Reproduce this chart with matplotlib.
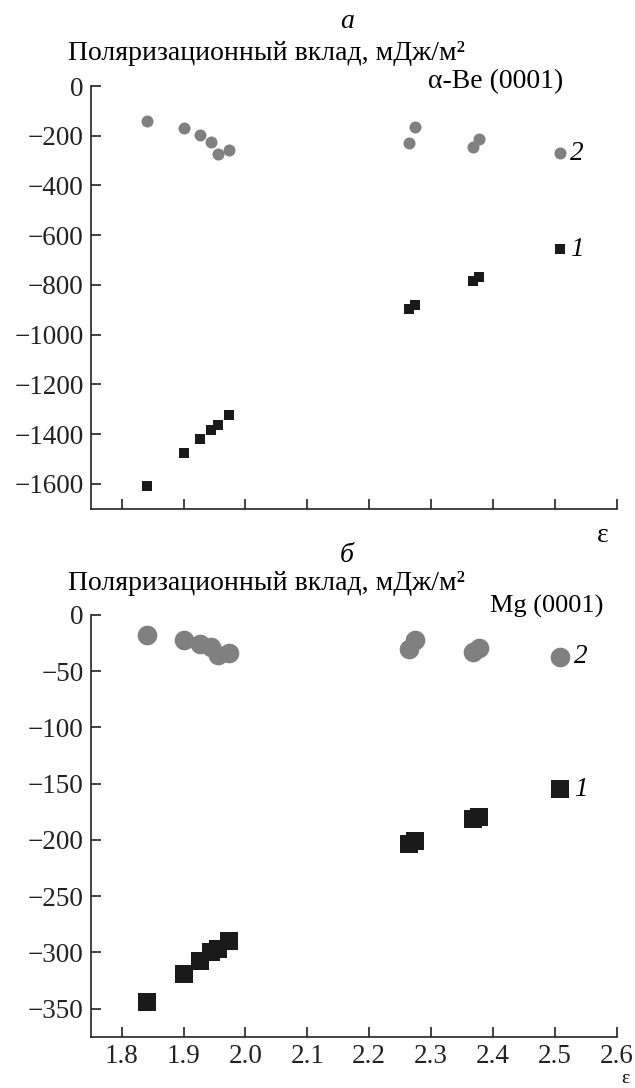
import matplotlib.pyplot as plt

plt.rcParams['font.family'] = ['Liberation Serif', 'DejaVu Serif']

# dielectric constant, same set for both panels
eps = [1.841, 1.900, 1.926, 1.945, 1.955, 1.973, 2.265, 2.274, 2.368, 2.378, 2.509]

# a) alpha-Be (0001), mJ/m^2
be_1 = [-1607, -1477, -1420, -1382, -1363, -1325, -895, -880, -786, -770, -657]
be_2 = [-140, -170, -197, -225, -273, -256, -230, -163, -246, -214, -271]

# b) Mg (0001), mJ/m^2
mg_1 = [-344, -319, -308, -300, -297, -290, -204, -201, -181, -180, -155]
mg_2 = [-17.5, -22.3, -26.1, -28.8, -35.6, -33.5, -30.6, -22.3, -32.6, -29.1, -37.1]

be_yticks = [0, -200, -400, -600, -800, -1000, -1200, -1400, -1600]
mg_yticks = [0, -50, -100, -150, -200, -250, -300, -350]
xticks = [1.8, 1.9, 2.0, 2.1, 2.2, 2.3, 2.4, 2.5, 2.6]

W, H = 635, 1088
fig = plt.figure(figsize=(W / 100, H / 100), dpi=100)

gray = '#808080'
black = '#1a1a1a'
tick_fs = 19.5
fs = 20


def px(x, y):
    return x / W, 1 - y / H


def style_axes(ax, ylim, yticks):
    ax.set_xlim(1.75, 2.6)
    ax.set_ylim(*ylim)
    ax.set_yticks(yticks)
    ax.set_xticks(xticks)
    for s in ['top', 'right']:
        ax.spines[s].set_visible(False)
    for s in ['left', 'bottom']:
        ax.spines[s].set_linewidth(1.2)
        ax.spines[s].set_color('#222222')
    ax.tick_params(direction='in', length=7, width=1.2, colors='#222222',
                   labelsize=tick_fs, pad=5)


ax1 = fig.add_axes([90.7 / W, 1 - 508.7 / H, 526 / W, 422.7 / H])
ax2 = fig.add_axes([90.7 / W, 1 - 1036.7 / H, 526 / W, 421.7 / H])

ax1.scatter(eps, be_2, s=75, marker='o', color=gray, linewidths=0, zorder=3)
ax1.scatter(eps, be_1, s=60, marker='s', color=black, linewidths=0, zorder=3)
style_axes(ax1, (-1700, 0), be_yticks)
ax1.set_xticklabels([])

ax2.scatter(eps, mg_2, s=200, marker='o', color=gray, linewidths=0, zorder=3)
ax2.scatter(eps, mg_1, s=165, marker='s', color=black, linewidths=0, zorder=3)
style_axes(ax2, (-375, 0), mg_yticks)
ax2.set_xticklabels([f'{v:.1f}' for v in xticks])

# curve numbers next to the last points
ax1.annotate('2', (eps[-1], be_2[-1]), xytext=(7, 0), textcoords='offset points',
             fontsize=tick_fs, style='italic', va='center', ha='left')
ax1.annotate('1', (eps[-1], be_1[-1]), xytext=(7, 0), textcoords='offset points',
             fontsize=tick_fs, style='italic', va='center', ha='left')
ax2.annotate('2', (eps[-1], mg_2[-1]), xytext=(10, 0), textcoords='offset points',
             fontsize=tick_fs, style='italic', va='center', ha='left')
ax2.annotate('1', (eps[-1], mg_1[-1]), xytext=(10, 0), textcoords='offset points',
             fontsize=tick_fs, style='italic', va='center', ha='left')

ylabel = 'Поляризационный вклад, мДж/м²'

fig.text(*px(347, 22), 'а', fontsize=fs, style='italic', ha='center', va='center')
fig.text(*px(68, 53), ylabel, fontsize=fs, ha='left', va='center')
fig.text(*px(428, 82), 'α-Be (0001)', fontsize=fs, ha='left', va='center')
fig.text(*px(603, 535), 'ε', fontsize=fs, ha='center', va='center')

fig.text(*px(347, 555), 'б', fontsize=fs, style='italic', ha='center', va='center')
fig.text(*px(68, 583), ylabel, fontsize=fs, ha='left', va='center')
fig.text(*px(490, 606), 'Mg (0001)', fontsize=19, ha='left', va='center')
fig.text(*px(625, 1087), 'ε', fontsize=14, ha='center', va='bottom')

fig.savefig('out.png', dpi=100)
